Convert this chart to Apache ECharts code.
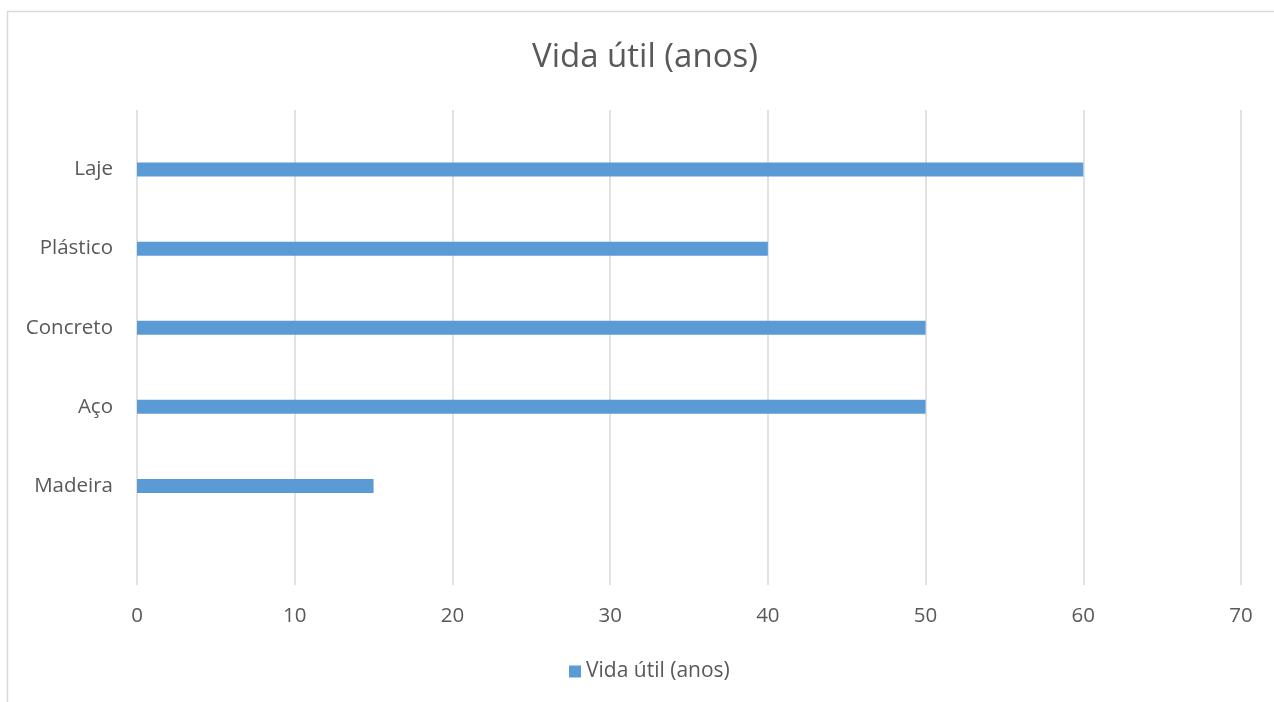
<!DOCTYPE html>
<html>
<head>
<meta charset="utf-8">
<title>Vida útil (anos)</title>
<script src="https://cdn.jsdelivr.net/npm/echarts@6/dist/echarts.min.js"></script>
<style>
  html, body { margin: 0; padding: 0; background: #ffffff; }
  #chart { width: 1274px; height: 702px; }
</style>
</head>
<body>
<div id="chart"></div>
<script>
// Materials, listed bottom to top as they appear on the category axis
const categories = ['Madeira', 'Aço', 'Concreto', 'Plástico', 'Laje'];
// Service life in years for each material
const lifeYears = [15, 50, 50, 40, 60];
// Value axis ticks
const xTicks = [0, 10, 20, 30, 40, 50, 60, 70];
const seriesName = 'Vida útil (anos)';

const FONT = '"Open Sans", "Noto Sans", sans-serif';
const TEXT = '#595959';
const GRID_LINE = '#D9D9D9';

const chart = echarts.init(document.getElementById('chart'), null, { renderer: 'canvas' });

chart.setOption({
  backgroundColor: '#ffffff',
  animation: false,
  textStyle: { fontFamily: FONT, color: TEXT },
  title: {
    text: seriesName,
    // centred over the framed chart area, which starts a few pixels in from the left
    left: 527,
    top: 36,
    textStyle: { fontFamily: FONT, fontSize: 33, fontWeight: 'normal', color: TEXT }
  },
  legend: {
    data: [seriesName],
    bottom: 15,
    left: 564,
    icon: 'rect',
    itemWidth: 12,
    itemHeight: 12,
    textStyle: { fontFamily: FONT, fontSize: 21, color: TEXT }
  },
  graphic: [{
    type: 'rect',
    shape: { x: 7.5, y: 11.5, width: 1300, height: 720 },
    style: { fill: 'none', stroke: '#D9D9D9', lineWidth: 1.5 },
    silent: true,
    z: -1
  }],
  grid: [
    // grid holding the value scale and its vertical gridlines
    { left: 137, top: 110, width: 1104, height: 475, containLabel: false },
    // grid holding the category bands and the bars
    { left: 137, top: 130, width: 1104, height: 395.5, containLabel: false }
  ],
  xAxis: [
    {
      gridIndex: 0,
      type: 'value',
      min: xTicks[0],
      max: xTicks[xTicks.length - 1],
      interval: xTicks[1] - xTicks[0],
      axisLine: { show: false },
      axisTick: { show: false },
      splitLine: { show: true, lineStyle: { color: GRID_LINE, width: 1.5 } },
      axisLabel: { margin: 21, fontFamily: FONT, fontSize: 20.5, color: TEXT }
    },
    {
      gridIndex: 1,
      type: 'value',
      min: xTicks[0],
      max: xTicks[xTicks.length - 1],
      show: false
    }
  ],
  yAxis: [
    {
      gridIndex: 0,
      type: 'category',
      data: categories,
      show: false
    },
    {
      gridIndex: 1,
      type: 'category',
      data: categories,
      axisLine: { show: false },
      axisTick: { show: false },
      splitLine: { show: false },
      axisLabel: { margin: 24, fontFamily: FONT, fontSize: 20.5, color: TEXT }
    }
  ],
  series: [{
    name: seriesName,
    type: 'bar',
    xAxisIndex: 1,
    yAxisIndex: 1,
    data: lifeYears,
    barWidth: 14,
    itemStyle: { color: '#5B9BD5' }
  }]
});
</script>
</body>
</html>
